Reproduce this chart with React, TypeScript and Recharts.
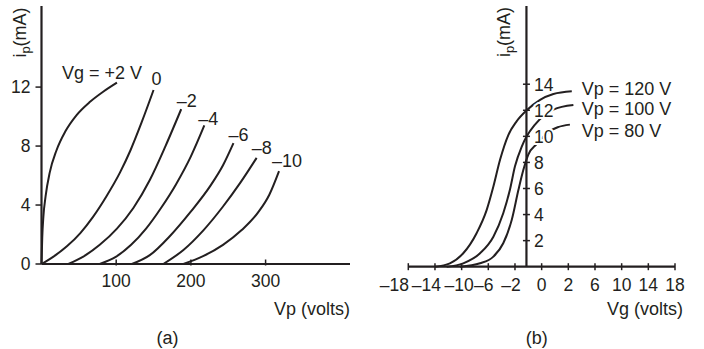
import { LineChart, Line, XAxis, YAxis, ReferenceLine, ReferenceDot } from "recharts"

const INK = "#231f20"
const FONT = "'Liberation Sans', Arial, Helvetica, sans-serif"

// ---- (a) plate characteristics: ip (mA) against Vp (volts), one curve per grid voltage
const vpTicks = [100, 200, 300]
const ipTicksA = [0, 4, 8, 12]

const vgPlus2 = [
  { v: 0, i: 0 }, { v: 1, i: 1.8 }, { v: 2.5, i: 3.2 }, { v: 5.5, i: 4.6 }, { v: 11, i: 6.2 },
  { v: 20, i: 7.7 }, { v: 32, i: 9.0 }, { v: 47, i: 10.1 }, { v: 65, i: 11.0 }, { v: 83, i: 11.7 },
  { v: 101, i: 12.3 },
]
const vgZero = [
  { v: 0, i: 0 }, { v: 16, i: 0.5 }, { v: 34, i: 1.2 }, { v: 52, i: 2.1 }, { v: 69, i: 3.2 },
  { v: 87, i: 4.6 }, { v: 105, i: 6.2 }, { v: 119, i: 7.7 }, { v: 134, i: 9.6 }, { v: 150, i: 11.8 },
]
const vgMinus2 = [
  { v: 36, i: 0 }, { v: 56, i: 0.5 }, { v: 78, i: 1.3 }, { v: 101, i: 2.4 }, { v: 123, i: 3.8 },
  { v: 145, i: 5.7 }, { v: 166, i: 8.0 }, { v: 187, i: 10.5 },
]
const vgMinus4 = [
  { v: 78, i: 0 }, { v: 100, i: 0.5 }, { v: 120, i: 1.3 }, { v: 140, i: 2.4 }, { v: 160, i: 3.8 },
  { v: 180, i: 5.4 }, { v: 200, i: 7.3 }, { v: 218, i: 9.4 },
]
const vgMinus6 = [
  { v: 121, i: 0 }, { v: 145, i: 0.6 }, { v: 172, i: 1.9 }, { v: 199, i: 3.5 }, { v: 226, i: 5.3 },
  { v: 243, i: 6.7 }, { v: 257, i: 8.2 },
]
const vgMinus8 = [
  { v: 163, i: 0 }, { v: 190, i: 0.95 }, { v: 217, i: 2.3 }, { v: 243, i: 3.9 }, { v: 266, i: 5.5 },
  { v: 288, i: 7.2 },
]
const vgMinus10 = [
  { v: 190, i: 0 }, { v: 217, i: 0.55 }, { v: 243, i: 1.3 }, { v: 268, i: 2.3 }, { v: 290, i: 3.5 },
  { v: 305, i: 4.7 }, { v: 318, i: 6.3 },
]

const platecurves = [
  { key: "p2", label: "Vg = +2 V", data: vgPlus2 },
  { key: "z", label: "0", data: vgZero },
  { key: "m2", label: "–2", data: vgMinus2 },
  { key: "m4", label: "–4", data: vgMinus4 },
  { key: "m6", label: "–6", data: vgMinus6 },
  { key: "m8", label: "–8", data: vgMinus8 },
  { key: "m10", label: "–10", data: vgMinus10 },
]
// where each curve name sits relative to the curve's last point (px)
const plateLabelNudge: Record<string, [number, number]> = {
  p2: [-55, -4], z: [-2, -5], m2: [-4.5, -2], m4: [-6, 0], m6: [-5, -2.5], m8: [-5, -4], m10: [-7, -4.5],
}

// ---- (b) transfer characteristics: ip (mA) against Vg, ticks are evenly spaced positions
const vgTickLabels = ["–18", "–14", "–10", "–6", "–2", "0", "2", "6", "10", "14", "18"]
const ipTicksB = [2, 4, 6, 8, 10, 12, 14]
const IP_AXIS_POS = 4.43 // the ip axis stands between the –2 and 0 ticks

const vp120 = [
  { g: 1.0, i: 0 }, { g: 1.56, i: 0.26 }, { g: 2.06, i: 1.03 }, { g: 2.56, i: 2.57 }, { g: 2.94, i: 4.36 },
  { g: 3.19, i: 6.15 }, { g: 3.44, i: 8.2 }, { g: 3.75, i: 10.1 }, { g: 4.06, i: 11.15 }, { g: 4.44, i: 12.0 },
  { g: 4.94, i: 12.8 }, { g: 5.44, i: 13.25 }, { g: 6.13, i: 13.46 },
]
const vp100 = [
  { g: 1.44, i: 0 }, { g: 2.06, i: 0.26 }, { g: 2.69, i: 1.03 }, { g: 3.19, i: 2.3 }, { g: 3.56, i: 4.1 },
  { g: 3.81, i: 5.9 }, { g: 4.0, i: 7.7 }, { g: 4.25, i: 9.2 }, { g: 4.44, i: 10.0 }, { g: 4.75, i: 10.9 },
  { g: 5.44, i: 12.05 }, { g: 6.19, i: 12.4 },
]
const vp80 = [
  { g: 1.94, i: 0 }, { g: 2.69, i: 0.26 }, { g: 3.19, i: 0.77 }, { g: 3.56, i: 1.8 }, { g: 3.88, i: 3.6 },
  { g: 4.13, i: 5.9 }, { g: 4.31, i: 7.4 }, { g: 4.5, i: 8.6 }, { g: 4.81, i: 9.4 }, { g: 5.3, i: 10.4 },
  { g: 5.6, i: 10.7 }, { g: 6.06, i: 10.9 },
]

const transferCurves = [
  { key: "120", label: "Vp = 120 V", data: vp120 },
  { key: "100", label: "Vp = 100 V", data: vp100 },
  { key: "80", label: "Vp = 80 V", data: vp80 },
]
const transferLabelNudge: Record<string, [number, number]> = {
  "120": [10, 4], "100": [8.3, 10], "80": [11.8, 12],
}
const vgTickNudge = [-14, -8.5, -2.5, -4.5, -4, 0, 0, 0, 0, 0, 0]

const textStyle = { fontFamily: FONT, fill: INK }

// label drawn at the last point of a curve
const endLabel = (text: string, n: number, dx: number, dy: number) => (p: any) => {
  if (p.index !== n - 1) return <g key={p.key ?? p.index} />
  return (
    <text key={p.key ?? p.index} x={p.cx + dx} y={p.cy + dy} fontSize={18} {...textStyle}>
      {text}
    </text>
  )
}

// rotated "ip(mA)" axis title
const IpTitle = ({ x, y }: { x: number; y: number }) => (
  <text transform={`translate(${x},${y}) rotate(-90)`} textAnchor="middle" fontSize={18} {...textStyle}>
    i
    <tspan dy={4} fontSize={13}>p</tspan>
    <tspan dy={-4}>(mA)</tspan>
  </text>
)

const PlateTick = (props: any) => {
  const { x, y, payload } = props
  return (
    <g>
      <line x1={x} x2={x} y1={y - 4.5} y2={y + 1.5} stroke={INK} strokeWidth={1.5} />
      <text x={x} y={y + 11} dy="0.71em" textAnchor="middle" fontSize={17.5} {...textStyle}>
        {payload.value}
      </text>
    </g>
  )
}

const TransferTick = (props: any) => {
  const { x, y, payload, index } = props
  return (
    <g>
      <line x1={x} x2={x} y1={y - 3.5} y2={y + 3.5} stroke={INK} strokeWidth={1.5} />
      <text x={x + vgTickNudge[index]} y={y + 11.5} dy="0.71em" textAnchor="middle" fontSize={17.5} {...textStyle}>
        {vgTickLabels[payload.value]}
      </text>
    </g>
  )
}

const PlateChart = () => (
  <LineChart width={360} height={349} margin={{ top: 6, right: 10, bottom: 55, left: 0 }}>
    <XAxis
      type="number"
      dataKey="v"
      domain={[0, 413]}
      ticks={vpTicks}
      interval={0}
      height={30}
      tickSize={0}
      tickMargin={0}
      tickLine={false}
      axisLine={{ stroke: INK, strokeWidth: 2.2 }}
      tick={PlateTick}
      label={{
        content: (p: any) => {
          const vb = p.viewBox
          return (
            <g>
              <text x={vb.x + vb.width} y={vb.y + 51} textAnchor="end" fontSize={18} {...textStyle}>Vp (volts)</text>
              <text x={vb.x + 126} y={vb.y + 80} textAnchor="middle" fontSize={18} {...textStyle}>(a)</text>
            </g>
          )
        },
      }}
    />
    <YAxis
      type="number"
      dataKey="i"
      domain={[0, 17.5]}
      ticks={ipTicksA}
      interval={0}
      width={41.5}
      tickSize={6}
      tickMargin={5}
      tickLine={{ stroke: INK, strokeWidth: 1.5 }}
      axisLine={{ stroke: INK, strokeWidth: 2.2 }}
      tick={{ fontSize: 17.5, ...textStyle }}
      label={{ content: (p: any) => <IpTitle x={p.viewBox.x + 26} y={p.viewBox.y + 26.5} /> }}
    />
    {platecurves.map((c) => (
      <Line
        key={c.key}
        data={c.data}
        dataKey="i"
        type="monotone"
        stroke={INK}
        strokeWidth={2}
        dot={endLabel(c.label, c.data.length, plateLabelNudge[c.key][0], plateLabelNudge[c.key][1])}
        activeDot={false}
        isAnimationActive={false}
      />
    ))}
  </LineChart>
)

const TransferChart = () => (
  <LineChart width={344} height={349} margin={{ top: 6, right: 29, bottom: 52.3, left: 48.3 }}>
    <XAxis
      type="number"
      dataKey="g"
      domain={[0, 10]}
      ticks={vgTickLabels.map((_, k) => k)}
      interval={0}
      height={30}
      tickSize={0}
      tickMargin={0}
      tickLine={false}
      axisLine={{ stroke: INK, strokeWidth: 2.2 }}
      tick={TransferTick}
      label={{
        content: (p: any) => {
          const vb = p.viewBox
          return (
            <g>
              <text x={vb.x + vb.width + 8} y={vb.y + 48.5} textAnchor="end" fontSize={18} {...textStyle}>Vg (volts)</text>
              <text x={vb.x + 128.4} y={vb.y + 77} textAnchor="middle" fontSize={18} {...textStyle}>(b)</text>
            </g>
          )
        },
      }}
    />
    <YAxis type="number" dataKey="i" domain={[0, 20]} hide />
    {transferCurves.map((c) => (
      <Line
        key={c.key}
        data={c.data}
        dataKey="i"
        type="monotone"
        stroke={INK}
        strokeWidth={2}
        dot={endLabel(c.label, c.data.length, transferLabelNudge[c.key][0], transferLabelNudge[c.key][1])}
        activeDot={false}
        isAnimationActive={false}
      />
    ))}
    <ReferenceLine
      x={IP_AXIS_POS}
      stroke={INK}
      strokeWidth={2.2}
      label={{ content: (p: any) => <IpTitle x={p.viewBox.x - 16} y={p.viewBox.y + 26} /> }}
    />
    {ipTicksB.map((v) => (
      <ReferenceDot
        key={v}
        x={IP_AXIS_POS}
        y={v}
        r={3}
        shape={(p: any) => (
          <g>
            <line x1={p.cx - 3.5} x2={p.cx + 3.5} y1={p.cy} y2={p.cy} stroke={INK} strokeWidth={1.5} />
            <text
              x={p.cx + 7.5}
              y={p.cy}
              dy="0.36em"
              fontSize={17.5}
              stroke="#fff"
              strokeWidth={4}
              paintOrder="stroke"
              {...textStyle}
            >
              {v}
            </text>
          </g>
        )}
      />
    ))}
  </LineChart>
)

export default function App() {
  return (
    <div style={{ position: "absolute", left: 0, top: 0, width: 704, height: 349, display: "flex", background: "#fff" }}>
      <PlateChart />
      <TransferChart />
    </div>
  )
}
